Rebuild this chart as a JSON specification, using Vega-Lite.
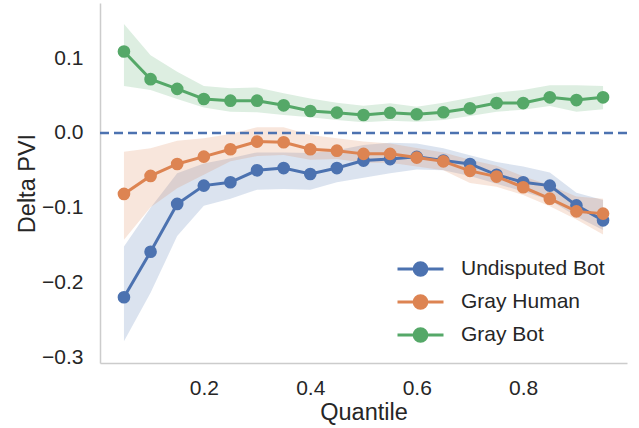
{
  "$schema": "https://vega.github.io/schema/vega-lite/v6.json",
  "width": 527,
  "height": 360,
  "autosize": {"type": "none"},
  "padding": {"left": 100, "top": 3, "right": 12, "bottom": 65},
  "background": "white",
  "config": {
    "view": {"stroke": null},
    "font": "Liberation Sans",
    "axis": {
      "domainColor": "#cccccc",
      "domainWidth": 1.5,
      "ticks": false,
      "grid": false,
      "labelFont": "Liberation Sans",
      "labelFontSize": 21,
      "labelColor": "#262626",
      "titleFont": "Liberation Sans",
      "titleFontSize": 23.5,
      "titleFontWeight": "normal",
      "titleColor": "#262626"
    }
  },
  "datasets": {
    "rows": [
      {"series": "Undisputed Bot", "q": 0.05, "v": -0.220, "lo": -0.279, "hi": -0.152},
      {"series": "Undisputed Bot", "q": 0.10, "v": -0.159, "lo": -0.214, "hi": -0.100},
      {"series": "Undisputed Bot", "q": 0.15, "v": -0.095, "lo": -0.138, "hi": -0.054},
      {"series": "Undisputed Bot", "q": 0.20, "v": -0.0705, "lo": -0.0975, "hi": -0.041},
      {"series": "Undisputed Bot", "q": 0.25, "v": -0.066, "lo": -0.088, "hi": -0.034},
      {"series": "Undisputed Bot", "q": 0.30, "v": -0.050, "lo": -0.076, "hi": -0.026},
      {"series": "Undisputed Bot", "q": 0.35, "v": -0.047, "lo": -0.075, "hi": -0.026},
      {"series": "Undisputed Bot", "q": 0.40, "v": -0.055, "lo": -0.076, "hi": -0.027},
      {"series": "Undisputed Bot", "q": 0.45, "v": -0.047, "lo": -0.066, "hi": -0.023},
      {"series": "Undisputed Bot", "q": 0.50, "v": -0.037, "lo": -0.060, "hi": -0.016},
      {"series": "Undisputed Bot", "q": 0.55, "v": -0.035, "lo": -0.054, "hi": -0.013},
      {"series": "Undisputed Bot", "q": 0.60, "v": -0.032, "lo": -0.049, "hi": -0.014},
      {"series": "Undisputed Bot", "q": 0.65, "v": -0.037, "lo": -0.050, "hi": -0.0205},
      {"series": "Undisputed Bot", "q": 0.70, "v": -0.0415, "lo": -0.0575, "hi": -0.030},
      {"series": "Undisputed Bot", "q": 0.75, "v": -0.056, "lo": -0.068, "hi": -0.039},
      {"series": "Undisputed Bot", "q": 0.80, "v": -0.066, "lo": -0.0785, "hi": -0.045},
      {"series": "Undisputed Bot", "q": 0.85, "v": -0.0705, "lo": -0.0896, "hi": -0.053},
      {"series": "Undisputed Bot", "q": 0.90, "v": -0.097, "lo": -0.112, "hi": -0.080},
      {"series": "Undisputed Bot", "q": 0.95, "v": -0.117, "lo": -0.130, "hi": -0.0896},
      {"series": "Gray Human", "q": 0.05, "v": -0.0816, "lo": -0.143, "hi": -0.025},
      {"series": "Gray Human", "q": 0.10, "v": -0.0575, "lo": -0.0995, "hi": -0.0205},
      {"series": "Gray Human", "q": 0.15, "v": -0.0415, "lo": -0.074, "hi": -0.0105},
      {"series": "Gray Human", "q": 0.20, "v": -0.0317, "lo": -0.056, "hi": -0.007},
      {"series": "Gray Human", "q": 0.25, "v": -0.0218, "lo": -0.038, "hi": -0.0013},
      {"series": "Gray Human", "q": 0.30, "v": -0.0116, "lo": -0.031, "hi": 0.0076},
      {"series": "Gray Human", "q": 0.35, "v": -0.0125, "lo": -0.0294, "hi": 0.0076},
      {"series": "Gray Human", "q": 0.40, "v": -0.0218, "lo": -0.036, "hi": -0.0027},
      {"series": "Gray Human", "q": 0.45, "v": -0.0237, "lo": -0.035, "hi": -0.007},
      {"series": "Gray Human", "q": 0.50, "v": -0.028, "lo": -0.040, "hi": -0.0116},
      {"series": "Gray Human", "q": 0.55, "v": -0.028, "lo": -0.040, "hi": -0.014},
      {"series": "Gray Human", "q": 0.60, "v": -0.033, "lo": -0.045, "hi": -0.020},
      {"series": "Gray Human", "q": 0.65, "v": -0.038, "lo": -0.050, "hi": -0.026},
      {"series": "Gray Human", "q": 0.70, "v": -0.0508, "lo": -0.067, "hi": -0.036},
      {"series": "Gray Human", "q": 0.75, "v": -0.0584, "lo": -0.072, "hi": -0.044},
      {"series": "Gray Human", "q": 0.80, "v": -0.0727, "lo": -0.083, "hi": -0.058},
      {"series": "Gray Human", "q": 0.85, "v": -0.088, "lo": -0.098, "hi": -0.070},
      {"series": "Gray Human", "q": 0.90, "v": -0.105, "lo": -0.116, "hi": -0.085},
      {"series": "Gray Human", "q": 0.95, "v": -0.108, "lo": -0.136, "hi": -0.088},
      {"series": "Gray Bot", "q": 0.05, "v": 0.109, "lo": 0.063, "hi": 0.146},
      {"series": "Gray Bot", "q": 0.10, "v": 0.072, "lo": 0.0575, "hi": 0.104},
      {"series": "Gray Bot", "q": 0.15, "v": 0.059, "lo": 0.0455, "hi": 0.082},
      {"series": "Gray Bot", "q": 0.20, "v": 0.0455, "lo": 0.034, "hi": 0.063},
      {"series": "Gray Bot", "q": 0.25, "v": 0.0432, "lo": 0.0285, "hi": 0.060},
      {"series": "Gray Bot", "q": 0.30, "v": 0.0432, "lo": 0.0277, "hi": 0.061},
      {"series": "Gray Bot", "q": 0.35, "v": 0.037, "lo": 0.024, "hi": 0.053},
      {"series": "Gray Bot", "q": 0.40, "v": 0.0294, "lo": 0.021, "hi": 0.046},
      {"series": "Gray Bot", "q": 0.45, "v": 0.0272, "lo": 0.0174, "hi": 0.0405},
      {"series": "Gray Bot", "q": 0.50, "v": 0.0241, "lo": 0.0143, "hi": 0.0365},
      {"series": "Gray Bot", "q": 0.55, "v": 0.027, "lo": 0.0165, "hi": 0.0397},
      {"series": "Gray Bot", "q": 0.60, "v": 0.025, "lo": 0.015, "hi": 0.035},
      {"series": "Gray Bot", "q": 0.65, "v": 0.0277, "lo": 0.0174, "hi": 0.0405},
      {"series": "Gray Bot", "q": 0.70, "v": 0.033, "lo": 0.0227, "hi": 0.047},
      {"series": "Gray Bot", "q": 0.75, "v": 0.040, "lo": 0.0285, "hi": 0.054},
      {"series": "Gray Bot", "q": 0.80, "v": 0.040, "lo": 0.031, "hi": 0.0575},
      {"series": "Gray Bot", "q": 0.85, "v": 0.0477, "lo": 0.036, "hi": 0.064},
      {"series": "Gray Bot", "q": 0.90, "v": 0.044, "lo": 0.0285, "hi": 0.064},
      {"series": "Gray Bot", "q": 0.95, "v": 0.0477, "lo": 0.0317, "hi": 0.063}
    ]
  },
  "data": {"name": "rows"},
  "layer": [
    {
      "mark": {"type": "area", "fillOpacity": 0.2, "strokeWidth": 0},
      "encoding": {
        "x": {
          "field": "q", "type": "quantitative", "title": "Quantile",
          "scale": {"domain": [0.005, 0.995], "nice": false, "zero": false},
          "axis": {"values": [0.2, 0.4, 0.6, 0.8], "format": ".1f", "titlePadding": 2, "labelFontSize": 21, "labelPadding": 14}
        },
        "y": {
          "field": "lo", "type": "quantitative", "title": "Delta PVI",
          "scale": {"domain": [-0.308, 0.174], "nice": false, "zero": false},
          "axis": {"values": [-0.3, -0.2, -0.1, 0, 0.1], "format": ".1f", "titlePadding": 2, "labelFontSize": 21, "labelPadding": 17}
        },
        "y2": {"field": "hi"},
        "color": {
          "field": "series", "type": "nominal",
          "scale": {"domain": ["Undisputed Bot", "Gray Human", "Gray Bot"], "range": ["#4c72b0", "#dd8452", "#55a868"]},
          "legend": {
            "title": null,
            "orient": "none",
            "legendX": 307.5,
            "legendY": 253,
            "padding": 0,
            "labelFont": "Liberation Sans",
            "labelFontSize": 21,
            "labelColor": "#262626",
            "labelOffset": 27.5,
            "symbolType": "M-2,0H2M0.56,0C0.56,0.3093 0.3093,0.56 0,0.56C-0.3093,0.56 -0.56,0.3093 -0.56,0C-0.56,-0.3093 -0.3093,-0.56 0,-0.56C0.3093,-0.56 0.56,-0.3093 0.56,0Z",
            "symbolSize": 529,
            "symbolStrokeWidth": 2.8,
            "symbolOpacity": 1,
            "rowPadding": 7,
            "encode": {
              "symbols": {"update": {"fill": {"scale": "color", "field": "value"}, "stroke": {"scale": "color", "field": "value"}, "opacity": {"value": 1}, "fillOpacity": {"value": 1}, "strokeOpacity": {"value": 1}}}
            }
          }
        }
      }
    },
    {
      "data": {"values": [{"z": 0}]},
      "mark": {"type": "rule", "color": "#4c72b0", "strokeWidth": 2.5, "strokeDash": [9, 5]},
      "encoding": {"y": {"field": "z", "type": "quantitative"}}
    },
    {
      "transform": [{"filter": "datum.series === 'Undisputed Bot'"}],
      "mark": {"type": "line", "strokeWidth": 3, "point": {"filled": true, "size": 160, "opacity": 1}},
      "encoding": {
        "x": {"field": "q", "type": "quantitative"},
        "y": {"field": "v", "type": "quantitative"},
        "color": {"field": "series", "type": "nominal"}
      }
    },
    {
      "transform": [{"filter": "datum.series === 'Gray Human'"}],
      "mark": {"type": "line", "strokeWidth": 3, "point": {"filled": true, "size": 160, "opacity": 1}},
      "encoding": {
        "x": {"field": "q", "type": "quantitative"},
        "y": {"field": "v", "type": "quantitative"},
        "color": {"field": "series", "type": "nominal"}
      }
    },
    {
      "transform": [{"filter": "datum.series === 'Gray Bot'"}],
      "mark": {"type": "line", "strokeWidth": 3, "point": {"filled": true, "size": 160, "opacity": 1}},
      "encoding": {
        "x": {"field": "q", "type": "quantitative"},
        "y": {"field": "v", "type": "quantitative"},
        "color": {"field": "series", "type": "nominal"}
      }
    }
  ]
}
